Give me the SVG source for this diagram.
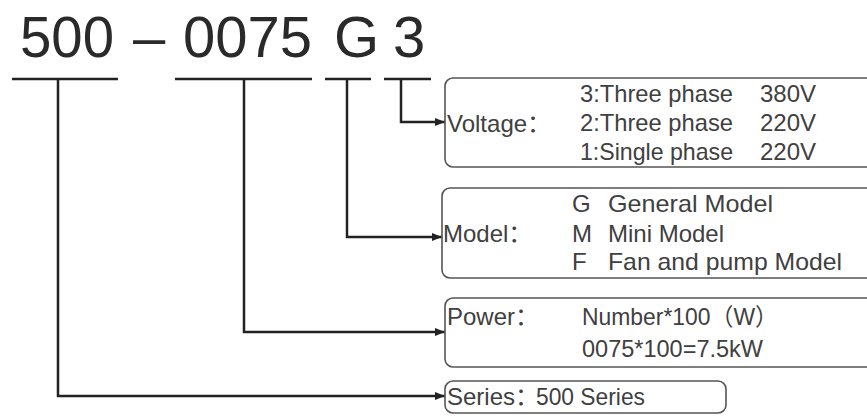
<svg xmlns="http://www.w3.org/2000/svg" width="867" height="416" viewBox="0 0 867 416">
<defs>
<marker id="arr" markerWidth="10" markerHeight="8" refX="10" refY="4" orient="auto" markerUnits="userSpaceOnUse">
<path d="M0,0 L10,4 L0,8 Z" fill="#222"/>
</marker>
<style>
.hd{font-family:"Liberation Sans",Arial,sans-serif;font-size:58px;fill:#2a2a2a}
.t{font-family:"Liberation Sans",Arial,"Noto Sans CJK SC",sans-serif;font-size:24px;fill:#404040}
.box{fill:#fff;stroke:#555;stroke-width:1.6}
.ul{stroke:#222;stroke-width:2.5;fill:none}
.ln{stroke:#222;stroke-width:2.5;fill:none;marker-end:url(#arr)}
</style>
</defs>
<rect width="867" height="416" fill="#fff"/>
<g id="header">
<text class="hd" x="20" y="57" textLength="94" lengthAdjust="spacingAndGlyphs">500</text>
<text class="hd" x="133" y="57">–</text>
<text class="hd" x="183" y="57" textLength="129" lengthAdjust="spacingAndGlyphs">0075</text>
<text class="hd" x="334" y="57">G</text>
<text class="hd" x="393" y="57">3</text>
</g>
<g id="connectors">
<line class="ul" x1="12" y1="79" x2="118" y2="79"/>
<line class="ul" x1="175" y1="79" x2="312" y2="79"/>
<line class="ul" x1="325" y1="79" x2="371" y2="79"/>
<line class="ul" x1="384" y1="79" x2="431" y2="79"/>
<polyline class="ln" points="401,79 401,122 445,122"/>
<polyline class="ln" points="347,79 347,237 442,237"/>
<polyline class="ln" points="244,79 244,332 445,332"/>
<polyline class="ln" points="58,79 58,396 445,396"/>
</g>
<g id="voltage">
<rect class="box" x="445" y="78" width="440" height="89" rx="8"/>
<text class="t" x="447" y="132">Voltage：</text>
<text class="t" x="580" y="102" textLength="153" lengthAdjust="spacingAndGlyphs">3:Three phase</text>
<text class="t" x="760" y="102">380V</text>
<text class="t" x="580" y="131" textLength="153" lengthAdjust="spacingAndGlyphs">2:Three phase</text>
<text class="t" x="760" y="131">220V</text>
<text class="t" x="580" y="160" textLength="153" lengthAdjust="spacingAndGlyphs">1:Single phase</text>
<text class="t" x="760" y="160">220V</text>
</g>
<g id="model">
<rect class="box" x="442" y="188" width="443" height="90" rx="8"/>
<text class="t" x="443" y="242">Model：</text>
<text class="t" x="572" y="212">G</text>
<text class="t" x="608" y="212" textLength="165" lengthAdjust="spacingAndGlyphs">General Model</text>
<text class="t" x="572" y="242">M</text>
<text class="t" x="608" y="242">Mini Model</text>
<text class="t" x="572" y="270">F</text>
<text class="t" x="608" y="270" textLength="234" lengthAdjust="spacingAndGlyphs">Fan and pump Model</text>
</g>
<g id="power">
<rect class="box" x="445" y="298" width="440" height="69" rx="8"/>
<text class="t" x="447" y="325">Power：</text>
<text class="t" x="582" y="325" textLength="196" lengthAdjust="spacingAndGlyphs">Number*100（W）</text>
<text class="t" x="582" y="357" textLength="181" lengthAdjust="spacingAndGlyphs">0075*100=7.5kW</text>
</g>
<g id="series">
<rect class="box" x="445" y="381" width="281" height="32" rx="8"/>
<text class="t" x="447" y="405">Series：</text>
<text class="t" x="536" y="405" textLength="109" lengthAdjust="spacingAndGlyphs">500 Series</text>
</g>
</svg>
